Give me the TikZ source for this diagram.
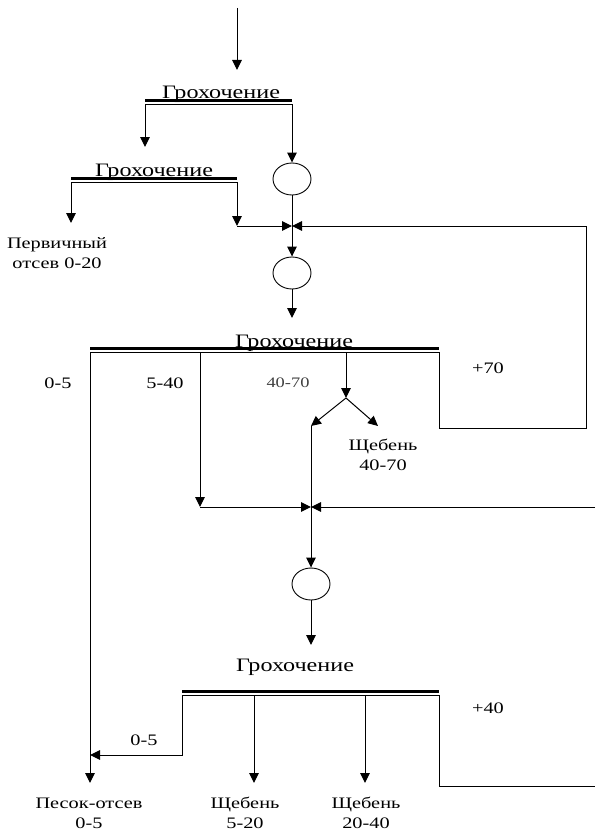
\documentclass[tikz,border=0pt]{standalone}
\usepackage{fontspec}
\setmainfont{Liberation Serif}[FakeStretch=1.27]
\usetikzlibrary{shapes.geometric,arrows.meta}

\begin{document}
\begin{tikzpicture}[x=1pt, y=-1pt,
  flow/.style={-{Triangle[length=10pt, width=9.5pt]}, line width=1pt},
  pipe/.style={line width=1pt},
  screen/.style={line width=0.8pt, preaction={draw, line width=3pt, transform canvas={yshift=3.5pt}}},
  crusher/.style={draw, ellipse, line width=0.9pt, minimum width=38pt, minimum height=32pt, inner sep=0pt},
  title/.style={font=\fontsize{19}{21}\selectfont, inner sep=0pt, anchor=base},
  label/.style={font=\fontsize{16}{20}\selectfont, align=center, inner sep=0pt},
]
\useasboundingbox (0,0) rectangle (595,832);

% === FEED AND SCREEN 1 ===
\coordinate (feed) at (237,8);
\coordinate (b1in) at (237,70);
\draw[flow] (feed) -- (b1in);
\node[title] (t1) at (221,99) {Грохочение};
\coordinate (b1w) at (145,104.5);
\coordinate (b1e) at (292,104.5);
\draw[screen] (b1w) -- (b1e);
\node[crusher] (c1) at (292,179) {};
\coordinate (b2in) at (145,147);
\draw[flow] (b1w) -- (b2in);
\draw[flow] (b1e) -- (c1.north);

% === SCREEN 2 ===
\node[title] (t2) at (154,176) {Грохочение};
\coordinate (b2w) at (71,182);
\coordinate (b2e) at (237,182);
\draw[screen] (b2w) -- (b2e);
\coordinate (o1) at (71,223);
\draw[flow] (b2w) -- (o1);
\node[label] (l1) at (57,253) {Первичный\\отсев 0-20};
\coordinate (b2c) at (237,226);
\coordinate (j1) at (292,226);
\draw[flow] (b2e) -- (b2c);
\draw[flow] (b2c) -- (j1);

% === CRUSHER 2 ===
\node[crusher] (c2) at (292,273) {};
\draw[pipe] (c1.south) -- (j1);
\draw[flow] (j1) -- (c2.north);
\coordinate (b3in) at (292,318);
\draw[flow] (c2.south) -- (b3in);

% === SCREEN 3 ===
\node[title] (t3) at (294,347) {Грохочение};
\coordinate (b3w) at (90,352);
\coordinate (b3a) at (200,352);
\coordinate (b3b) at (346,352);
\coordinate (b3e) at (439,352);
\draw[screen] (b3w) -- (b3e);
\node[label] (f1) at (58,383) {0-5};
\node[label] (f2) at (165,383) {5-40};
\node[label, font=\fontsize{14.5}{18}\selectfont, text=black!75] (f3) at (288,383) {40-70};
\node[label] (f4) at (488,368) {+70};

% +70 back to crusher 2
\coordinate (r1) at (586,428);
\draw[flow] (b3e) |- (r1) |- (j1);

% 40-70 split
\coordinate (sp) at (346,398);
\coordinate (s1) at (311,426);
\coordinate (s2) at (378,426);
\draw[flow] (b3b) -- (sp);
\draw[flow] (sp) -- (s1);
\draw[flow] (sp) -- (s2);
\node[label] (l5) at (383,455) {Щебень\\40-70};

% 5-40 and return line
\coordinate (m1) at (200,507);
\coordinate (j2) at (311,507);
\coordinate (r3) at (595,507);
\draw[flow] (b3a) -- (m1);
\draw[flow] (m1) -- (j2);
\draw[flow] (r3) -- (j2);
\draw[pipe] (s1) -- (j2);

% === CRUSHER 3 ===
\node[crusher] (c3) at (311,584) {};
\draw[flow] (j2) -- (c3.north);
\coordinate (b4in) at (311,645);
\draw[flow] (c3.south) -- (b4in);

% === SCREEN 4 ===
\node[title] (t4) at (295,671) {Грохочение};
\coordinate (b4w) at (182,695);
\coordinate (b4a) at (254,695);
\coordinate (b4b) at (365,695);
\coordinate (b4e) at (439,695);
\draw[screen] (b4w) -- (b4e);
\node[label] (f5) at (144,740) {0-5};
\node[label] (f6) at (488,708) {+40};
\coordinate (m2) at (90,755);
\draw[flow] (b4w) |- (m2);
\coordinate (r4) at (595,786);
\draw[pipe] (b4e) |- (r4);

% === PRODUCTS ===
\coordinate (p1) at (90,783);
\coordinate (p2) at (254,783);
\coordinate (p3) at (365,783);
\draw[flow] (b3w) -- (p1);
\draw[flow] (b4a) -- (p2);
\draw[flow] (b4b) -- (p3);
\node[label] (l2) at (89,813) {Песок-отсев\\0-5};
\node[label] (l3) at (245,813) {Щебень\\5-20};
\node[label] (l4) at (366,813) {Щебень\\20-40};
\end{tikzpicture}
\end{document}
